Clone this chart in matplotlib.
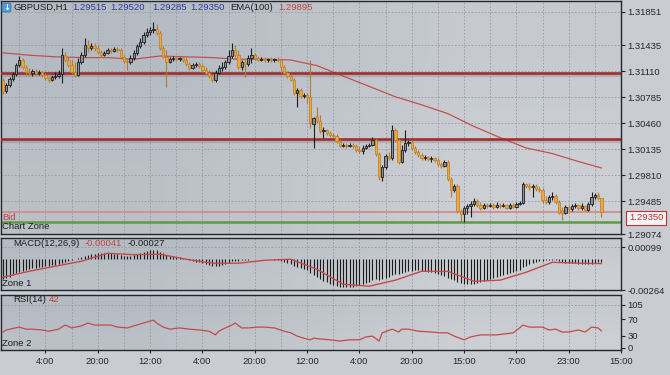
import numpy as np
import matplotlib
matplotlib.use('Agg')
import matplotlib.pyplot as plt
from matplotlib.patches import FancyBboxPatch

plt.rcParams['font.family'] = ['Liberation Sans', 'DejaVu Sans']

# GBPUSD H1 candles
opens = [1.3100, 1.3086, 1.3094, 1.3101, 1.3108, 1.3119, 1.3125, 1.3116, 1.3110, 1.3109,
         1.3111, 1.3109, 1.3110, 1.3106, 1.3102, 1.3100, 1.3104, 1.3105, 1.3108, 1.3131,
         1.3125, 1.3119, 1.3110, 1.3106, 1.3122, 1.3131, 1.3144, 1.3140, 1.3142, 1.3140,
         1.3135, 1.3131, 1.3134, 1.3138, 1.3136, 1.3139, 1.3138, 1.3129, 1.3124, 1.3122,
         1.3128, 1.3134, 1.3142, 1.3148, 1.3156, 1.3160, 1.3162, 1.3164, 1.3159, 1.3140,
         1.3129, 1.3122, 1.3126, 1.3128, 1.3126, 1.3128, 1.3125, 1.3120, 1.3115, 1.3119,
         1.3120, 1.3118, 1.3112, 1.3109, 1.3105, 1.3100, 1.3109, 1.3115, 1.3116, 1.3122,
         1.3130, 1.3138, 1.3131, 1.3116, 1.3122, 1.3120, 1.3128, 1.3131, 1.3128, 1.3125,
         1.3126, 1.3125, 1.3126, 1.3125, 1.3126, 1.3125, 1.3116, 1.3109, 1.3105, 1.3100,
         1.3084, 1.3088, 1.3080, 1.3081, 1.3079, 1.3045, 1.3055, 1.3049, 1.3036, 1.3038,
         1.3034, 1.3031, 1.3030, 1.3024, 1.3018, 1.3019, 1.3018, 1.3019, 1.3018, 1.3012,
         1.3011, 1.3015, 1.3018, 1.3019, 1.3025, 1.3008, 1.2979, 1.2991, 1.3005, 1.3002,
         1.3038, 1.3025, 1.2998, 1.3012, 1.3021, 1.3022, 1.3015, 1.3010, 1.3006, 1.3002,
         1.3004, 1.3001, 1.3002, 1.3000, 1.2995, 1.2992, 1.2998, 1.2976, 1.2962, 1.2968,
         1.2936, 1.2932, 1.2940, 1.2942, 1.2945, 1.2949, 1.2944, 1.2940, 1.2944, 1.2942,
         1.2944, 1.2941, 1.2944, 1.2942, 1.2944, 1.2940, 1.2944, 1.2941, 1.2945, 1.2946,
         1.2970, 1.2968, 1.2966, 1.2968, 1.2964, 1.2962, 1.2950, 1.2948, 1.2954, 1.2955,
         1.2948, 1.2938, 1.2934, 1.2941, 1.2939, 1.2942, 1.2944, 1.2940, 1.2942, 1.2938,
         1.2945, 1.2954, 1.2956, 1.2952]
highs = [1.3102, 1.3096, 1.3104, 1.3110, 1.3121, 1.3130, 1.3128, 1.3119, 1.3115, 1.3114,
         1.3114, 1.3112, 1.3111, 1.3109, 1.3105, 1.3106, 1.3110, 1.3112, 1.3140, 1.3135,
         1.3129, 1.3125, 1.3122, 1.3128, 1.3135, 1.3152, 1.3150, 1.3146, 1.3146, 1.3144,
         1.3138, 1.3136, 1.3140, 1.3140, 1.3141, 1.3141, 1.3140, 1.3131, 1.3128, 1.3131,
         1.3138, 1.3145, 1.3152, 1.3160, 1.3165, 1.3166, 1.3172, 1.3170, 1.3161, 1.3142,
         1.3138, 1.3129, 1.3130, 1.3130, 1.3129, 1.3129, 1.3129, 1.3122, 1.3121, 1.3122,
         1.3122, 1.3120, 1.3116, 1.3112, 1.3108, 1.3112, 1.3119, 1.3122, 1.3125, 1.3138,
         1.3146, 1.3144, 1.3138, 1.3125, 1.3128, 1.3131, 1.3140, 1.3134, 1.3130, 1.3129,
         1.3129, 1.3128, 1.3129, 1.3128, 1.3129, 1.3126, 1.3119, 1.3111, 1.3108, 1.3102,
         1.3090, 1.3090, 1.3084, 1.3084, 1.3125, 1.3054, 1.3066, 1.3056, 1.3041, 1.3039,
         1.3036, 1.3034, 1.3032, 1.3026, 1.3021, 1.3021, 1.3021, 1.3021, 1.3020, 1.3018,
         1.3019, 1.3020, 1.3021, 1.3029, 1.3028, 1.3010, 1.2994, 1.3008, 1.3010, 1.3044,
         1.3040, 1.3028, 1.3019, 1.3038, 1.3025, 1.3025, 1.3018, 1.3012, 1.3009, 1.3006,
         1.3005, 1.3005, 1.3004, 1.3002, 1.2998, 1.3000, 1.3000, 1.2979, 1.2970, 1.2970,
         1.2939, 1.2942, 1.2945, 1.2949, 1.2952, 1.2951, 1.2948, 1.2946, 1.2946, 1.2946,
         1.2946, 1.2948, 1.2946, 1.2946, 1.2945, 1.2946, 1.2946, 1.2948, 1.2949, 1.2972,
         1.2971, 1.2971, 1.2970, 1.2970, 1.2968, 1.2965, 1.2955, 1.2956, 1.2960, 1.2958,
         1.2950, 1.2941, 1.2944, 1.2944, 1.2945, 1.2946, 1.2945, 1.2946, 1.2944, 1.2948,
         1.2960, 1.2959, 1.2960, 1.2952]
lows = [1.3082, 1.3084, 1.3091, 1.3099, 1.3105, 1.3116, 1.3114, 1.3105, 1.3106, 1.3105,
        1.3106, 1.3106, 1.3104, 1.3100, 1.3098, 1.3099, 1.3101, 1.3102, 1.3096, 1.3122,
        1.3116, 1.3108, 1.3104, 1.3105, 1.3120, 1.3129, 1.3135, 1.3138, 1.3136, 1.3132,
        1.3129, 1.3130, 1.3132, 1.3134, 1.3135, 1.3135, 1.3126, 1.3121, 1.3112, 1.3120,
        1.3125, 1.3131, 1.3140, 1.3145, 1.3154, 1.3156, 1.3159, 1.3156, 1.3138, 1.3128,
        1.3091, 1.3121, 1.3124, 1.3124, 1.3124, 1.3122, 1.3118, 1.3112, 1.3114, 1.3116,
        1.3115, 1.3110, 1.3106, 1.3102, 1.3098, 1.3098, 1.3108, 1.3111, 1.3114, 1.3120,
        1.3128, 1.3129, 1.3114, 1.3112, 1.3104, 1.3118, 1.3121, 1.3125, 1.3124, 1.3124,
        1.3122, 1.3122, 1.3122, 1.3122, 1.3122, 1.3109, 1.3108, 1.3102, 1.3099, 1.3081,
        1.3066, 1.3078, 1.3078, 1.3071, 1.3040, 1.3015, 1.3046, 1.3034, 1.3028, 1.3031,
        1.3029, 1.3029, 1.3021, 1.3016, 1.3016, 1.3015, 1.3016, 1.3015, 1.3010, 1.3009,
        1.3008, 1.3014, 1.3016, 1.3018, 1.3005, 1.2975, 1.2974, 1.2989, 1.3000, 1.3000,
        1.3022, 1.2995, 1.2996, 1.3010, 1.3018, 1.3012, 1.3008, 1.3004, 1.3000, 1.3000,
        1.2999, 1.2998, 1.2998, 1.2992, 1.2990, 1.2991, 1.2974, 1.2954, 1.2960, 1.2934,
        1.2922, 1.2922, 1.2932, 1.2929, 1.2942, 1.2941, 1.2938, 1.2939, 1.2940, 1.2941,
        1.2939, 1.2940, 1.2940, 1.2941, 1.2939, 1.2939, 1.2940, 1.2940, 1.2944, 1.2945,
        1.2965, 1.2962, 1.2954, 1.2961, 1.2960, 1.2946, 1.2945, 1.2945, 1.2950, 1.2945,
        1.2932, 1.2925, 1.2932, 1.2936, 1.2936, 1.2940, 1.2938, 1.2938, 1.2936, 1.2936,
        1.2942, 1.2951, 1.2950, 1.2929]
closes = [1.3086, 1.3094, 1.3101, 1.3108, 1.3119, 1.3125, 1.3116, 1.3110, 1.3109, 1.3111,
          1.3109, 1.3110, 1.3106, 1.3102, 1.3100, 1.3104, 1.3105, 1.3108, 1.3131, 1.3125,
          1.3119, 1.3110, 1.3106, 1.3122, 1.3131, 1.3144, 1.3140, 1.3142, 1.3140, 1.3135,
          1.3131, 1.3134, 1.3138, 1.3136, 1.3139, 1.3138, 1.3129, 1.3124, 1.3122, 1.3128,
          1.3134, 1.3142, 1.3148, 1.3156, 1.3160, 1.3162, 1.3164, 1.3159, 1.3140, 1.3129,
          1.3122, 1.3126, 1.3128, 1.3126, 1.3128, 1.3125, 1.3120, 1.3115, 1.3119, 1.3120,
          1.3118, 1.3112, 1.3109, 1.3105, 1.3100, 1.3109, 1.3115, 1.3116, 1.3122, 1.3130,
          1.3138, 1.3131, 1.3116, 1.3122, 1.3120, 1.3128, 1.3131, 1.3128, 1.3125, 1.3126,
          1.3125, 1.3126, 1.3125, 1.3126, 1.3125, 1.3116, 1.3109, 1.3105, 1.3100, 1.3084,
          1.3088, 1.3080, 1.3081, 1.3079, 1.3046, 1.3052, 1.3049, 1.3036, 1.3038, 1.3034,
          1.3031, 1.3030, 1.3024, 1.3018, 1.3019, 1.3018, 1.3019, 1.3018, 1.3012, 1.3011,
          1.3015, 1.3018, 1.3019, 1.3025, 1.3008, 1.2979, 1.2991, 1.3005, 1.3002, 1.3038,
          1.3025, 1.2998, 1.3012, 1.3021, 1.3022, 1.3015, 1.3010, 1.3006, 1.3002, 1.3004,
          1.3001, 1.3002, 1.3000, 1.2995, 1.2992, 1.2998, 1.2976, 1.2962, 1.2968, 1.2936,
          1.2932, 1.2940, 1.2942, 1.2945, 1.2949, 1.2944, 1.2940, 1.2944, 1.2942, 1.2944,
          1.2941, 1.2944, 1.2942, 1.2944, 1.2940, 1.2944, 1.2941, 1.2945, 1.2946, 1.2970,
          1.2968, 1.2966, 1.2968, 1.2964, 1.2962, 1.2950, 1.2948, 1.2954, 1.2955, 1.2948,
          1.2934, 1.2934, 1.2941, 1.2939, 1.2942, 1.2944, 1.2940, 1.2942, 1.2938, 1.2945,
          1.2954, 1.2956, 1.2952, 1.2935]

# EMA(100), sampled every 8 bars
ema_idx = [0, 8, 16, 24, 32, 40, 48, 56, 64, 72, 80, 88, 96, 104, 112, 120,
           128, 136, 144, 152, 160, 168, 176, 183]
ema_val = [1.3134, 1.3131, 1.3129, 1.3128, 1.3128, 1.3126, 1.3130, 1.3129,
           1.3128, 1.3126, 1.3126, 1.3125, 1.3118, 1.3105, 1.3092, 1.3079,
           1.3069, 1.3058, 1.3042, 1.3028, 1.3015, 1.3008, 1.2998, 1.2990]

# MACD(12,26,9) histogram, one per bar
macd_hist = [-0.00173, -0.00165, -0.00156, -0.00139, -0.00122, -0.00114, -0.00106, -0.00097, -0.00089, -0.00080,
             -0.00076, -0.00072, -0.00068, -0.00063, -0.00059, -0.00055, -0.00051, -0.00046, -0.00038, -0.00030,
             -0.00021, -0.00013, -0.00004, 0.00004, 0.00013, 0.00025, 0.00034, 0.00038, 0.00042, 0.00046,
             0.00051, 0.00051, 0.00051, 0.00046, 0.00042, 0.00038, 0.00030, 0.00025, 0.00021, 0.00025,
             0.00030, 0.00038, 0.00046, 0.00055, 0.00063, 0.00072, 0.00076, 0.00072, 0.00059, 0.00046,
             0.00034, 0.00025, 0.00021, 0.00017, 0.00013, 0.00004, -0.00004, -0.00013, -0.00021, -0.00025,
             -0.00030, -0.00038, -0.00046, -0.00055, -0.00063, -0.00063, -0.00059, -0.00055, -0.00046, -0.00034,
             -0.00021, -0.00017, -0.00017, -0.00013, -0.00013, -0.00008, -0.00004, -0.00004, -0.00004, -0.00004,
             -0.00004, -0.00004, -0.00004, -0.00008, -0.00013, -0.00021, -0.00030, -0.00038, -0.00046, -0.00059,
             -0.00072, -0.00080, -0.00089, -0.00097, -0.00118, -0.00139, -0.00156, -0.00173, -0.00190, -0.00198,
             -0.00211, -0.00219, -0.00228, -0.00236, -0.00241, -0.00241, -0.00241, -0.00236, -0.00232, -0.00224,
             -0.00215, -0.00207, -0.00198, -0.00181, -0.00173, -0.00181, -0.00173, -0.00165, -0.00156, -0.00139,
             -0.00131, -0.00127, -0.00122, -0.00114, -0.00106, -0.00101, -0.00097, -0.00097, -0.00101, -0.00106,
             -0.00110, -0.00114, -0.00122, -0.00131, -0.00139, -0.00148, -0.00160, -0.00173, -0.00181, -0.00194,
             -0.00207, -0.00215, -0.00215, -0.00215, -0.00211, -0.00207, -0.00198, -0.00190, -0.00181, -0.00173,
             -0.00165, -0.00156, -0.00148, -0.00139, -0.00131, -0.00122, -0.00114, -0.00106, -0.00093, -0.00072,
             -0.00059, -0.00046, -0.00038, -0.00030, -0.00021, -0.00017, -0.00013, -0.00013, -0.00008, -0.00013,
             -0.00021, -0.00030, -0.00034, -0.00038, -0.00038, -0.00038, -0.00042, -0.00042, -0.00046, -0.00046,
             -0.00042, -0.00038, -0.00030, -0.00027]
signal_idx = [0, 8, 16, 24, 32, 40, 48, 56, 64, 72, 80, 88, 96, 104, 112, 120,
              128, 136, 144, 152, 160, 168, 176, 183]
signal_val = [-0.00156, -0.00106, -0.00063, -0.00021, 0.00046, 0.00034, 0.00038, -0.00004,
              -0.00038, -0.00038, -0.00013, -0.00004, -0.00089, -0.00215, -0.00232, -0.00181,
              -0.00106, -0.00106, -0.00190, -0.00181, -0.00114, -0.00030, -0.00038, -0.00041]

# RSI(14)
rsi_idx = [0, 1, 5, 7, 9, 12, 14, 17, 19, 21, 24, 26, 28, 30, 33, 35, 38, 40, 43, 46,
           47, 49, 51, 54, 57, 60, 63, 65, 66, 68, 70, 71, 73, 75, 78, 80, 83, 86, 88, 90,
           92, 94, 95, 97, 100, 103, 106, 109, 111, 113, 115, 116, 119, 121, 122, 124, 127, 131, 134, 136,
           138, 141, 143, 146, 151, 156, 158, 159, 161, 165, 167, 169, 171, 173, 176, 178, 180, 182, 183]
rsi_val = [39, 44, 51, 46, 46, 44, 41, 46, 56, 49, 54, 61, 56, 56, 56, 51, 49, 54, 61, 68,
           61, 51, 46, 49, 46, 44, 41, 32, 41, 49, 56, 61, 49, 49, 51, 51, 49, 41, 37, 29,
           24, 20, 24, 22, 20, 17, 20, 20, 27, 29, 17, 37, 46, 39, 46, 46, 41, 39, 37, 37,
           29, 20, 27, 32, 32, 37, 49, 56, 51, 51, 44, 46, 39, 39, 44, 39, 51, 49, 42]

time_pos = [13, 29, 45, 61, 77, 93, 109, 125, 141, 157, 173, 189]
time_labels = ['4:00', '20:00', '12:00', '4:00', '20:00', '12:00', '4:00', '20:00',
               '15:00', '7:00', '23:00', '15:00']
price_ticks = [1.31851, 1.31435, 1.31110, 1.30785, 1.30460, 1.30135, 1.29810, 1.29485, 1.29074]
red_levels = [1.3109, 1.3026]
green_level = 1.2923
bid_price = 1.2935
macd_ticks = [0.00099, -0.00264]
rsi_ticks = [105, 70, 30, 0]

W, H = 670, 375
FS = 6.8
fig = plt.figure(figsize=(6.7, 3.75), dpi=100)
fig.patch.set_facecolor('#c9cdd2')

def px_axes(x0, y0, x1, y1):
    return fig.add_axes([x0 / W, 1 - y1 / H, (x1 - x0) / W, (y1 - y0) / H])

def backdrop(a):
    img = np.array([[[0.71, 0.735, 0.765], [0.78, 0.795, 0.815]],
                    [[0.73, 0.755, 0.78], [0.80, 0.812, 0.83]]])
    a.imshow(img, extent=[0, 1, 0, 1], transform=a.transAxes, aspect='auto',
             interpolation='bilinear', zorder=0)

def style(a):
    for s in a.spines.values():
        s.set_color('#24282d'); s.set_linewidth(1)
    a.yaxis.tick_right()
    a.tick_params(axis='y', length=3, width=0.8, colors='#24282d', labelsize=FS, pad=1.5)
    for i in range(5, 190, 8):
        a.axvline(i, color='#939ba3', ls=(0, (2, 2)), lw=0.6, zorder=1)

ax = px_axes(1, 1, 621, 234)
axm = px_axes(1, 238, 621, 290)
axr = px_axes(1, 295, 621, 350)
for a in (ax, axm, axr):
    backdrop(a)
    style(a)

# price panel
idx = np.arange(len(closes))
o = np.array(opens); c = np.array(closes); h = np.array(highs); l = np.array(lows)
up = c >= o
for p in price_ticks[:-1]:
    ax.axhline(p, color='#939ba3', ls=(0, (2, 2)), lw=0.6, zorder=1)
ax.plot(ema_idx, ema_val, color='#c25050', lw=0.9, zorder=3)
for lv in red_levels:
    ax.axhline(lv - 0.00028, color='#6f767e', lw=3, alpha=0.3, zorder=2)
    ax.axhline(lv, color='#a52c2c', lw=1.9, zorder=3)
ax.axhline(bid_price, color='#d88a8a', lw=1.3, zorder=2)
ax.axhline(green_level, color='#5f9a48', lw=1.8, zorder=2)
ax.vlines(idx[up], l[up], h[up], color='#1e1e1e', lw=0.8, zorder=4)
ax.vlines(idx[~up], l[~up], h[~up], color='#b37a32', lw=0.8, zorder=4)
ax.bar(idx[up], c[up] - o[up], bottom=o[up], width=0.7, color='#8b9096',
       edgecolor='#1e1e1e', lw=0.6, zorder=5)
ax.bar(idx[~up], c[~up] - o[~up], bottom=o[~up], width=0.7, color='#f2a73a',
       edgecolor='#c08530', lw=0.6, zorder=5)
ax.set_xlim(-0.6, 189)
ax.set_ylim(1.29074, 1.31988)
ax.set_xticks([])
ax.set_yticks(price_ticks)
ax.set_yticklabels([f'{p:.5f}' for p in price_ticks])

# MACD panel
axm.axhline(macd_ticks[0], color='#939ba3', ls=(0, (2, 2)), lw=0.6, zorder=1)
axm.vlines(np.arange(len(macd_hist)), 0, macd_hist, color='#1a1a1a', lw=0.8, zorder=3)
axm.plot(signal_idx, signal_val, color='#c44a4a', lw=1.0, zorder=4)
axm.set_xlim(-0.6, 189)
axm.set_ylim(-0.00264, 0.00175)
axm.set_xticks([])
axm.set_yticks(macd_ticks)
axm.set_yticklabels([f'{t:.5f}' for t in macd_ticks])

# RSI panel
axr.axhline(rsi_ticks[0], color='#939ba3', ls=(0, (2, 2)), lw=0.6, zorder=1)
axr.plot(rsi_idx, rsi_val, color='#c44a4a', lw=0.9, zorder=3)
axr.set_xlim(-0.6, 189)
axr.set_ylim(-4.9, 129.4)
axr.set_yticks(rsi_ticks)
axr.set_xticks(time_pos)
axr.set_xticklabels(time_labels)
axr.tick_params(axis='x', length=2, width=0.8, colors='#24282d', labelsize=FS, pad=3)

def T(x, y, s, color='#1e1e1e', **kw):
    fig.text(x / W, 1 - y / H, s, color=color, fontsize=FS, va='center', ha='left', **kw)

blue = '#2b3c9c'
red = '#c04545'
fig.patches.append(FancyBboxPatch((2 / W, 1 - 12 / H), 9 / W, 9 / H,
                                  boxstyle='round,pad=0,rounding_size=0.004',
                                  transform=fig.transFigure, fc='#539ad8', ec='#2f6fb0', lw=0.5))
fig.text(6.5 / W, 1 - 7.5 / H, '↓', color='white', fontsize=6, ha='center', va='center',
         fontweight='bold', family='DejaVu Sans')
T(13, 7, 'GBPUSD,H1')
T(72, 7, '1.29515', blue)
T(110, 7, '1.29520', blue)
T(152, 7, '1.29285', blue)
T(190, 7, '1.29350', blue)
T(230, 7, 'EMA(100)')
T(278, 7, '1.29895', red)
T(2, 217, 'Bid', red)
T(2, 227, 'Chart Zone')
T(13, 243, 'MACD(12,26,9)')
T(85, 243, '-0.00041', red)
T(128, 243, '-0.00027')
T(2, 284, 'Zone 1')
T(13, 300, 'RSI(14)')
T(49, 300, '42', red)
T(2, 343, 'Zone 2')
fig.text(646 / W, 1 - 218 / H, '1.29350', color='#c03030', fontsize=FS, ha='center', va='center',
         bbox=dict(boxstyle='square,pad=0.3', fc='#f4f4f4', ec='#c03030', lw=0.8))

fig.savefig('out.png', dpi=100, facecolor=fig.get_facecolor())
